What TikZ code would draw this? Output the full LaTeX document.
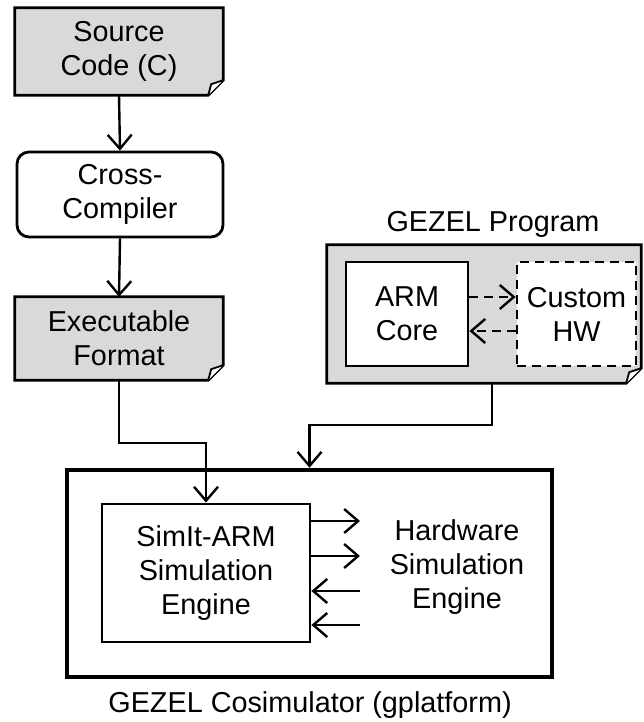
\documentclass[tikz,border=0pt]{standalone}
\usepackage{fontspec}
\setmainfont{Liberation Sans}
\usetikzlibrary{arrows.meta,backgrounds}
\definecolor{docgray}{RGB}{217,217,217}
\tikzset{
  every node/.style={font=\fontsize{28.8}{34}\selectfont, align=center, inner sep=0pt},
  boxline/.style={line width=2.8pt, draw=black},
  arr/.style={line width=2.4pt, -{Straight Barb[length=14pt,width=24pt,line width=2.4pt]}},
  darr/.style={arr, dash pattern=on 9pt off 6pt},
  docnode/.style n args={2}{minimum width=#1, minimum height=#2},
}
\newcommand\mydoc[1]{%
  \begin{scope}[on background layer]
  \draw[boxline, fill=docgray] (#1.north west) -- (#1.north east) -- ([yshift=15pt]#1.south east)
     -- ([xshift=-15pt]#1.south east) -- (#1.south west) -- cycle;
  \draw[line width=1.8pt, fill=white] ([xshift=-15pt]#1.south east) -- ([xshift=-12pt,yshift=11pt]#1.south east)
     -- ([yshift=15pt]#1.south east);
  \end{scope}}
\begin{document}
\begin{tikzpicture}[x=1pt,y=-1pt]
\useasboundingbox (0,0) rectangle (644,722);
% left chain
\node[docnode={208pt}{87pt}] (src) at (119,51.5) {Source\\Code (C)};
\mydoc{src}
\node[boxline, fill=white, rounded corners=12pt, minimum width=206pt, minimum height=85pt] (cc) at (120,194.5) {Cross-\\Compiler};
\node[docnode={208pt}{83pt}] (exe) at (119,338.5) {Executable\\Format};
\mydoc{exe}
% GEZEL program
\node (gplabel) at (493,224) {GEZEL Program};
\node[docnode={314pt}{138pt}] (gp) at (484,314) {};
\mydoc{gp}
\node[boxline, fill=white, minimum width=122pt, minimum height=104pt] (arm) at (407,314) {ARM\\Core};
\node[boxline, fill=white, dash pattern=on 9pt off 6pt, minimum width=119pt, minimum height=104pt] (hw) at (576.5,314) {Custom\\HW};
% cosimulator
\node[draw, line width=4.5pt, minimum width=485pt, minimum height=207pt] (cosim) at (309.5,573.5) {};
\node[boxline, minimum width=208pt, minimum height=138pt] (simit) at (206,573) {SimIt-ARM\\Simulation\\Engine};
\node (hwe) at (457,567) {Hardware\\Simulation\\Engine};
\node (cslabel) at (310,705) {GEZEL Cosimulator (gplatform)};
% connectors
\draw[arr] (src.south) -- (cc.north);
\draw[arr] (cc.south) -- (exe.north);
\draw[arr] (exe.south) -- ++(0,63) -| (simit.north);
\draw[arr] ([xshift=8pt]gp.south) -- ++(0,42) -| (cosim.north);
\draw[darr] ([yshift=17pt]arm.east) -- ([yshift=17pt]hw.west);
\draw[darr] ([yshift=-17pt]hw.west) -- ([yshift=-17pt]arm.east);
\coordinate (h1) at (360,521);
\coordinate (h2) at (360,556);
\coordinate (h3) at (360,591);
\coordinate (h4) at (360,625);
\draw[arr] (simit.east |- h1) -- (h1);
\draw[arr] (simit.east |- h2) -- (h2);
\draw[arr] (h3) -- (simit.east |- h3);
\draw[arr] (h4) -- (simit.east |- h4);
\end{tikzpicture}
\end{document}
